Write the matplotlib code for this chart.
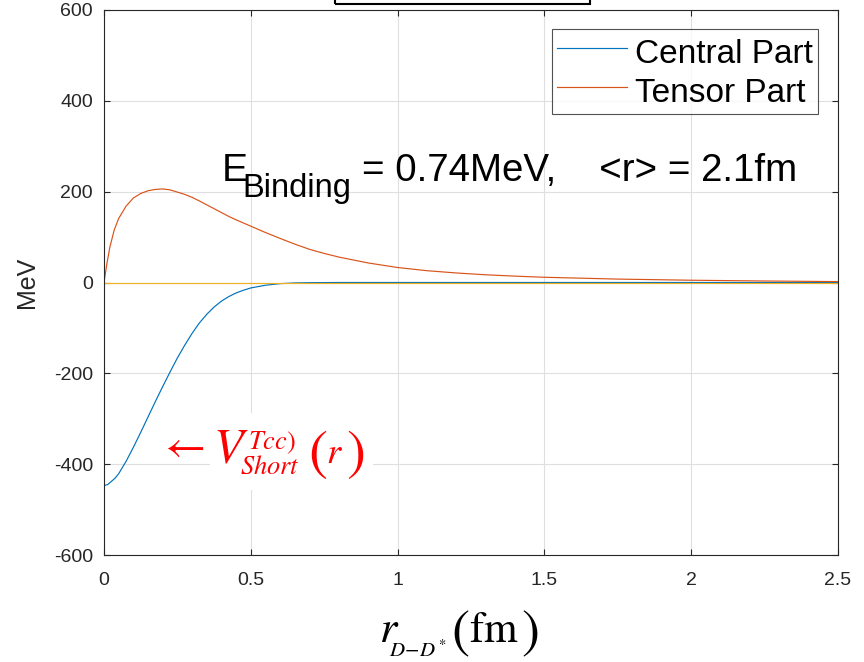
import matplotlib
matplotlib.use('Agg')
import matplotlib.pyplot as plt
from matplotlib.patches import Rectangle

# values
r_central = [0, 0.0125, 0.025, 0.0375, 0.05, 0.075, 0.1, 0.125, 0.15, 0.175, 0.2, 0.225,
             0.25, 0.275, 0.3, 0.325, 0.35, 0.375, 0.4, 0.425, 0.45, 0.475, 0.5, 0.55,
             0.6, 0.65, 0.7, 0.8, 1.0, 1.5, 2.0, 2.5]
v_central = [-447, -445, -438, -431, -421, -394, -363, -330, -296, -262, -229, -197,
             -166, -138, -112, -89, -70, -54, -41, -31, -23, -17, -12, -6,
             -2.5, -1, -0.4, 0, 0, 0, 0, 0]

r_tensor = [0, 0.01, 0.02, 0.035, 0.05, 0.075, 0.1, 0.125, 0.15, 0.175, 0.2, 0.225,
            0.25, 0.275, 0.3, 0.325, 0.35, 0.375, 0.4, 0.425, 0.45, 0.475, 0.5, 0.55,
            0.6, 0.65, 0.7, 0.75, 0.8, 0.9, 1.0, 1.1, 1.2, 1.3, 1.4, 1.5, 1.75, 2.0,
            2.25, 2.5]
v_tensor = [0, 42, 78, 116, 141, 168, 186, 196, 202, 205, 206, 204,
            199, 194, 187.5, 179.5, 171, 162.5, 154, 145.5, 138, 131, 124, 110,
            97, 84.5, 73, 64, 56, 43, 33, 26, 21, 17, 14, 11.5, 7.5, 5,
            3.3, 2]

r_zero = [0, 2.5]
v_zero = [0, 0]

xticks = [0, 0.5, 1, 1.5, 2, 2.5]
xticklabels = ['0', '0.5', '1', '1.5', '2', '2.5']
yticks = [-600, -400, -200, 0, 200, 400, 600]
yticklabels = ['-600', '-400', '-200', '0', '200', '400', '600']

W, H = 864, 662
plt.rcParams['font.family'] = ['Liberation Sans', 'DejaVu Sans']
plt.rcParams['mathtext.fontset'] = 'stix'


def px(x, y):
    return x / W, 1 - y / H


fig = plt.figure(figsize=(W / 100, H / 100), dpi=100)
ax = fig.add_axes([104 / W, 1 - 555 / H, (838 - 104) / W, (555 - 10) / H])

ax.plot(r_central, v_central, color='#0072BD', lw=0.85, label='Central Part')
ax.plot(r_tensor, v_tensor, color='#D95319', lw=0.85, label='Tensor Part')
ax.plot(r_zero, v_zero, color='#EDB120', lw=0.85)

ax.set_xlim(0, 2.5)
ax.set_ylim(-600, 600)
ax.set_xticks(xticks)
ax.set_xticklabels(xticklabels)
ax.set_yticks(yticks)
ax.set_yticklabels(yticklabels)
ax.grid(True, color='#dfdfdf', lw=0.8)
ax.set_axisbelow(True)
ax.tick_params(direction='in', length=4, width=0.8, colors='#262626',
               labelsize=14, top=True, right=True, pad=8)
ax.tick_params(axis='x', pad=12)
for s in ax.spines.values():
    s.set_color('#262626')
    s.set_linewidth(0.8)

fig.text(*px(27, 282), 'MeV', fontsize=18, color='#262626', rotation=90,
         va='center', ha='center')

leg = ax.legend(loc='upper right', fontsize=24, frameon=True, fancybox=False,
                edgecolor='#262626', borderpad=0.15, handlelength=2.1,
                handleheight=1.25, handletextpad=0.25, labelspacing=0.09,
                borderaxespad=0.0,
                bbox_to_anchor=((818 - 104) / (838 - 104), (555 - 29) / (555 - 10)))
leg.get_frame().set_linewidth(0.8)

# binding energy text
fig.text(*px(222, 181), 'E', fontsize=28, va='baseline', ha='left')
fig.text(*px(242, 197), 'Binding', fontsize=23.5, va='baseline', ha='left')
fig.text(*px(362, 181), '= 0.74MeV,    <r> = 2.1fm', fontsize=27.7,
         va='baseline', ha='left')

# potential label
fig.patches.append(Rectangle(px(210, 490), 163 / W, 77 / H, transform=fig.transFigure,
                             facecolor='white', edgecolor='none'))
fig.text(*px(158, 447), r'$\leftarrow$', fontsize=32, color='red',
         va='center', ha='left')
fig.text(*px(213, 463), r'$V$', fontsize=35, color='red', va='baseline', ha='left')
fig.text(*px(248, 449), r'$Tcc)$', fontsize=19, color='red', va='baseline', ha='left')
fig.text(*px(240, 474), r'$Short$', fontsize=19, color='red', va='baseline', ha='left')
fig.text(*px(308, 454), r'$($', fontsize=41, color='red', va='center', ha='left')
fig.text(*px(326, 463), r'$r$', fontsize=26, color='red', va='baseline', ha='left')
fig.text(*px(346, 454), r'$)$', fontsize=41, color='red', va='center', ha='left')

# x label
fig.text(*px(379, 642), r'$r$', fontsize=32, va='baseline', ha='left')
fig.text(*px(389, 657), r'$D\!-\!D^*$', fontsize=15, va='baseline', ha='left')
fig.text(*px(451, 634), r'$($', fontsize=39, va='center', ha='left')
fig.text(*px(469, 642), r'$\mathrm{fm}$', fontsize=31, va='baseline', ha='left')
fig.text(*px(521, 634), r'$)$', fontsize=39, va='center', ha='left')

# box cut off at top edge
fig.patches.append(Rectangle(px(335, 4), 255 / W, 0.05, transform=fig.transFigure,
                             fill=False, edgecolor='black', lw=1.5))

fig.savefig('out.png', dpi=100)
